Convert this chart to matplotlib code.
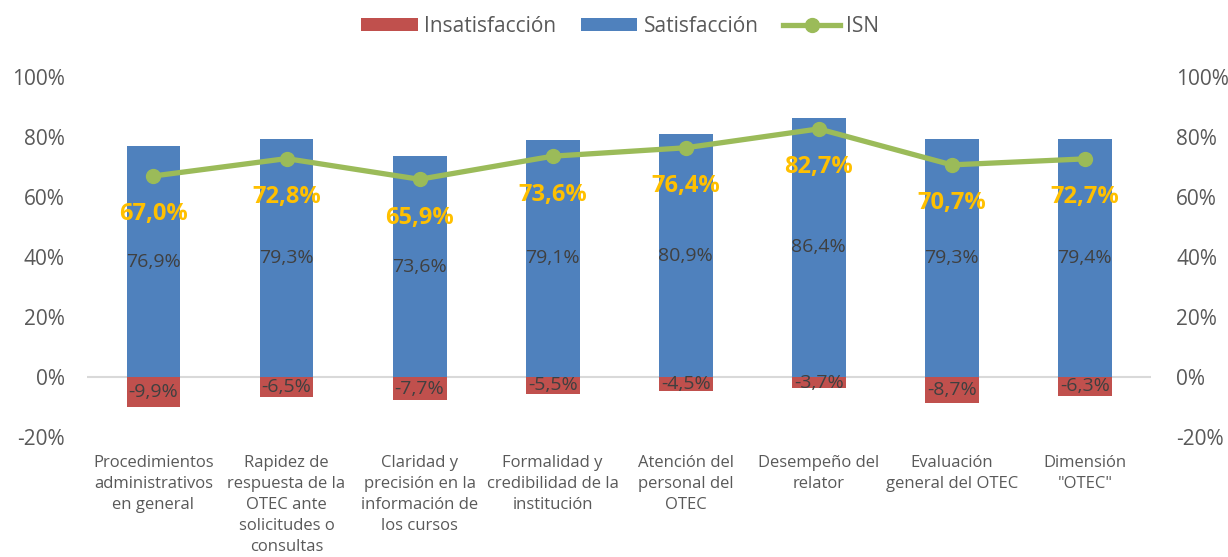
import matplotlib
matplotlib.use("Agg")
import matplotlib.pyplot as plt
import numpy as np
from matplotlib.ticker import FuncFormatter

plt.rcParams["font.family"] = ["Open Sans", "DejaVu Sans"]

categories = [
    "Procedimientos\nadministrativos\nen general",
    "Rapidez de\nrespuesta de la\nOTEC ante\nsolicitudes o\nconsultas",
    "Claridad y\nprecisión en la\ninformación de\nlos cursos",
    "Formalidad y\ncredibilidad de la\ninstitución",
    "Atención del\npersonal del\nOTEC",
    "Desempeño del\nrelator",
    "Evaluación\ngeneral del OTEC",
    "Dimensión\n\"OTEC\"",
]
satisfaccion = [76.9, 79.3, 73.6, 79.1, 80.9, 86.4, 79.3, 79.4]
insatisfaccion = [-9.9, -6.5, -7.7, -5.5, -4.5, -3.7, -8.7, -6.3]
isn = [67.0, 72.8, 65.9, 73.6, 76.4, 82.7, 70.7, 72.7]

BLUE = "#4F81BD"
RED = "#C0504D"
GREEN = "#9BBB59"
GOLD = "#FFC000"
TXT = "#595959"
LBL = "#404040"

fmt = lambda v: f"{v:.1f}%".replace(".", ",")

fig = plt.figure(figsize=(12.28, 5.57), dpi=100)
ax = fig.add_axes([0.0708, 0.2154, 0.8668, 0.6464])
x = np.arange(len(categories))

ax.bar(x, satisfaccion, width=0.405, color=BLUE, label="Satisfacción", zorder=2)
ax.bar(x, insatisfaccion, width=0.405, color=RED, label="Insatisfacción", zorder=2)
ax.plot(x, isn, color=GREEN, linewidth=3.8, marker="o", markersize=10,
        label="ISN", zorder=3)
ax.axhline(0, color="#D9D9D9", linewidth=1.5, zorder=1)

for xi, s, i, n in zip(x, satisfaccion, insatisfaccion, isn):
    ax.text(xi, s / 2, fmt(s), ha="center", va="center", fontsize=14,
            color=LBL, zorder=4)
    ax.text(xi, i / 2, fmt(i), ha="center", va="center", fontsize=14,
            color=LBL, zorder=4)
    ax.text(xi, n - 12.8, fmt(n), ha="center", va="center", fontsize=17,
            color=GOLD, fontweight="bold", zorder=5)

ax.set_xlim(-0.5, len(categories) - 0.5)
ax.set_ylim(-20, 100)
ax.set_yticks(range(-20, 101, 20))
pct = FuncFormatter(lambda v, p: f"{v:.0f}%")
ax.yaxis.set_major_formatter(pct)
ax.set_xticks(x)
ax.set_xticklabels(categories, fontsize=12, color=TXT, linespacing=1.42)
ax.tick_params(axis="x", length=0, pad=13)
ax.tick_params(axis="y", length=0, labelsize=15, labelcolor=TXT, pad=16)
for s in ax.spines.values():
    s.set_visible(False)

ax2 = ax.twinx()
ax2.set_ylim(-20, 100)
ax2.set_yticks(range(-20, 101, 20))
ax2.yaxis.set_major_formatter(pct)
ax2.tick_params(axis="y", length=0, labelsize=15, labelcolor=TXT, pad=18)
for s in ax2.spines.values():
    s.set_visible(False)

h, l = ax.get_legend_handles_labels()
order = [l.index("Insatisfacción"), l.index("Satisfacción"), l.index("ISN")]
fig.legend([h[k] for k in order], [l[k] for k in order], loc="upper center",
           bbox_to_anchor=(0.505, 1.005), ncol=3, frameon=False, fontsize=15,
           labelcolor=TXT, handlelength=2.7, handleheight=0.6, columnspacing=1.2,
           handletextpad=0.3)

fig.savefig("out.png", dpi=100)
